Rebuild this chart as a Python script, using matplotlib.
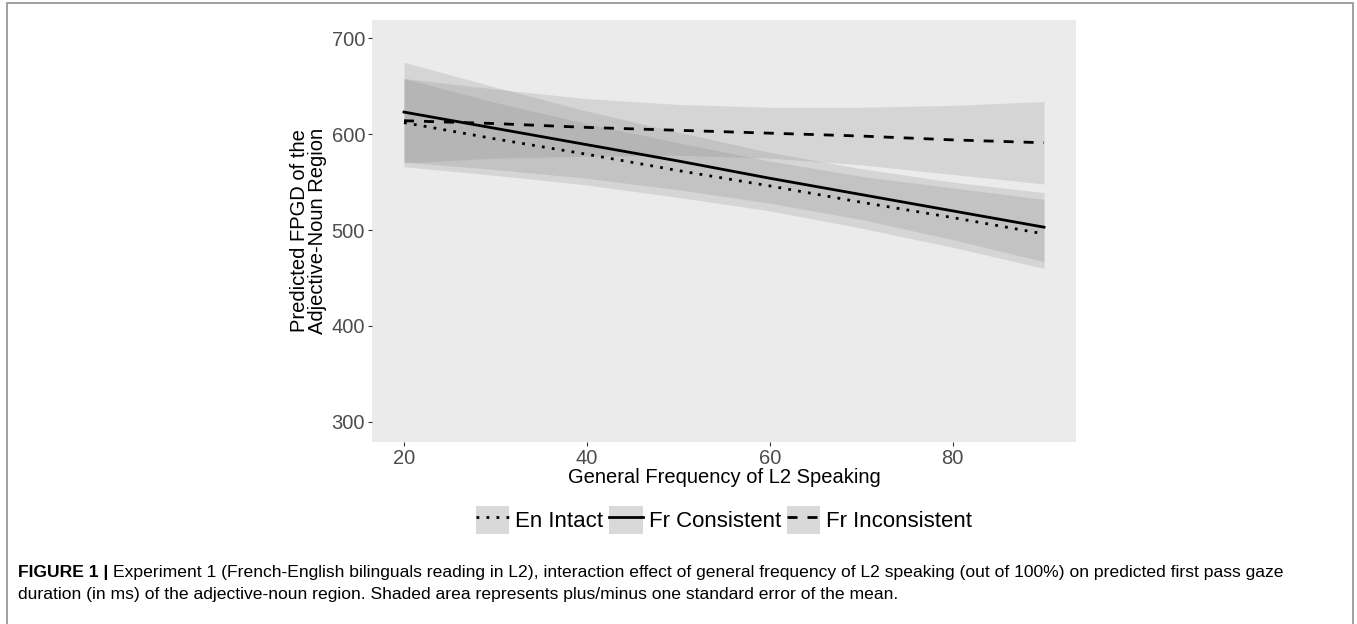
import matplotlib
matplotlib.use("Agg")
import matplotlib.pyplot as plt
from matplotlib.patches import Patch, Rectangle
from matplotlib.lines import Line2D

# Data
# -----------------------------------------------------------------------------

freq = [20, 30, 40, 50, 60, 70, 80, 90]

en_fit = [612, 595, 579, 562, 546, 529, 513, 496]
en_lo = [566, 557, 547, 534, 520, 502, 482, 460]
en_hi = [658, 633, 611, 591, 572, 556, 544, 532]

con_fit = [623, 606, 589, 572, 554, 537, 520, 503]
con_lo = [571, 563, 554, 542, 528, 511, 490, 467]
con_hi = [675, 649, 624, 602, 581, 564, 550, 539]

inc_fit = [614, 611, 607, 604, 601, 598, 594, 591]
inc_lo = [570, 575, 577, 578, 575, 568, 558, 548]
inc_hi = [658, 647, 637, 631, 628, 628, 630, 634]

x_ticks = [20, 40, 60, 80]
y_ticks = [300, 400, 500, 600, 700]

series_names = ["En Intact", "Fr Consistent", "Fr Inconsistent"]

caption_bold = "FIGURE 1 | "
caption_1 = ("Experiment 1 (French-English bilinguals reading in L2), interaction effect of "
             "general frequency of L2 speaking (out of 100%) on predicted first pass gaze")
caption_2 = ("duration (in ms) of the adjective-noun region. Shaded area represents "
             "plus/minus one standard error of the mean.")

# Figure
# -----------------------------------------------------------------------------

W, H = 1357, 624
plt.rcParams['font.family'] = ['Liberation Sans', 'DejaVu Sans']

fig = plt.figure(figsize=(W / 100, H / 100), dpi=100)
fig.patch.set_facecolor("white")

# grey frame round the figure (bottom edge falls outside the picture)
fig.patches.append(Rectangle((7 / W, 1 - 630 / H), 1346 / W, 627 / H,
                             transform=fig.transFigure, fill=False,
                             edgecolor="#a0a0a0", lw=1.4))

left, right, top, bottom = 372, 1076, 20, 442
ax = fig.add_axes([left / W, 1 - bottom / H, (right - left) / W, (bottom - top) / H])
ax.set_facecolor("#ebebeb")
for s in ax.spines.values():
    s.set_visible(False)

styles = [(0, (1, 2.6)), "-", (0, (3.6, 3.6))]
fits = [en_fit, con_fit, inc_fit]
los = [en_lo, con_lo, inc_lo]
his = [en_hi, con_hi, inc_hi]

for lo, hi in zip(los, his):
    ax.fill_between(freq, lo, hi, color="#7f7f7f", alpha=0.2, lw=0)
for fit, ls in zip(fits, styles):
    ax.plot(freq, fit, color="black", lw=2.0, linestyle=ls)

ax.set_xlim(16.5, 93.5)
ax.set_ylim(279, 719)
ax.set_xticks(x_ticks)
ax.set_yticks(y_ticks)
ax.tick_params(axis="both", length=3, width=0.8, color="#333333",
               labelcolor="#4d4d4d", labelsize=14.5, pad=2)

ax.set_xlabel("General Frequency of L2 Speaking", fontsize=14.5, labelpad=0)
ax.set_ylabel("Predicted FPGD of the\nAdjective-Noun Region", fontsize=14.5,
              labelpad=3, linespacing=0.95)

# legend with grey key boxes
handles = []
for ls in styles:
    handles.append((Patch(facecolor="#d9d9d9", edgecolor="none"),
                    Line2D([], [], color="black", lw=2.0, linestyle=ls)))
fig.legend(handles, series_names, loc="center",
           bbox_to_anchor=((left + right) / 2 / W, 1 - 520 / H),
           ncol=3, frameon=False, fontsize=16,
           handlelength=1.5, handleheight=1.5, handletextpad=0.27,
           columnspacing=0.27, borderpad=0)

# caption: bold lead-in then regular text, sized so line 1 ends near x=1290
cap_font = ['Liberation Sans Narrow', 'Liberation Sans', 'DejaVu Sans']
x0, y1, y2 = 18 / W, 1 - 573 / H, 1 - 595 / H
renderer = fig.canvas.get_renderer()
probe_b = fig.text(0, 0, caption_bold, fontsize=10, fontweight="bold", family=cap_font)
probe_r = fig.text(0, 0, caption_1, fontsize=10, family=cap_font)
w10 = (probe_b.get_window_extent(renderer).width
       + probe_r.get_window_extent(renderer).width)
probe_b.remove()
probe_r.remove()
cap_size = 10 * (1290 - 18) / w10

tb = fig.text(x0, y1, caption_bold, fontsize=cap_size, fontweight="bold",
              family=cap_font, va="center")
bb = tb.get_window_extent(renderer).transformed(fig.transFigure.inverted())
fig.text(bb.x1, y1, caption_1, fontsize=cap_size, family=cap_font, va="center")
fig.text(x0, y2, caption_2, fontsize=cap_size, family=cap_font, va="center")

fig.savefig("out.png", dpi=100, facecolor="white")
